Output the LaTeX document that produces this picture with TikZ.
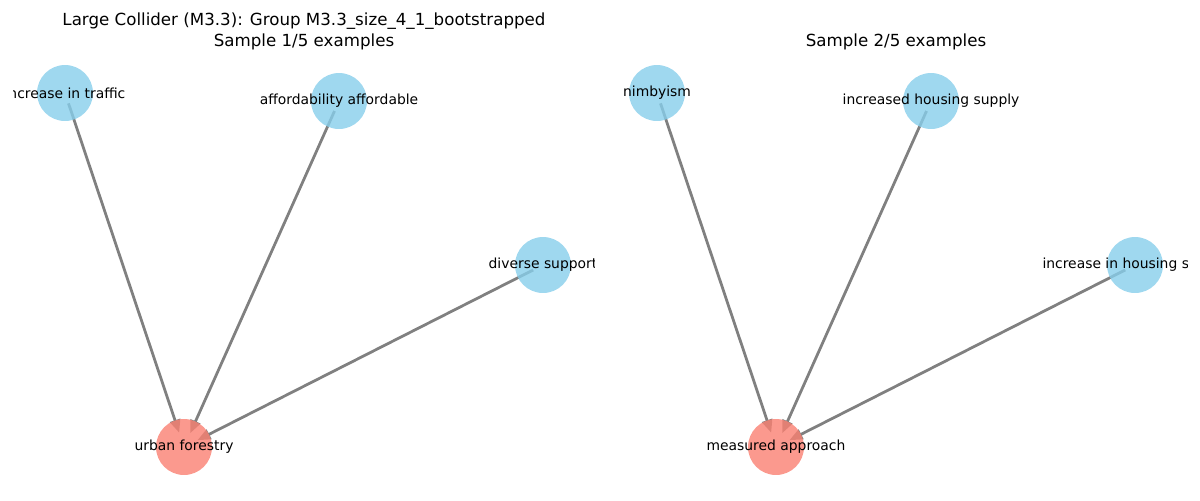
\documentclass[tikz,border=0pt]{standalone}
\usepackage{fontspec}
\setmainfont{DejaVu Sans}
\usetikzlibrary{arrows.meta,backgrounds}
\definecolor{skyblue}{HTML}{87CEEB}
\definecolor{salmon}{HTML}{FA8072}
\definecolor{edgegray}{HTML}{808080}
\tikzset{
  cause/.style={circle,fill=skyblue,fill opacity=0.8,draw=none,inner sep=0pt,minimum size=40.3pt},
  effect/.style={cause,fill=salmon},
  lbl/.style={inner sep=0pt,font=\fontsize{10}{12}\selectfont},
  ttl/.style={inner sep=0pt,font=\fontsize{12}{14}\selectfont},
  edge/.style={edgegray,line width=2pt,-{Triangle[length=9.5pt,width=7.5pt]},shorten <=7.9pt,shorten >=10.8pt}
}
\begin{document}
\begin{tikzpicture}[x=0.72pt,y=-0.72pt]
\useasboundingbox (0,0) rectangle (1200,500);
\node[ttl] (tla) at (304,21) {Large Collider (M3.3): Group M3.3\_size\_4\_1\_bootstrapped};
\node[ttl] (tlb) at (304,42) {Sample 1/5 examples};
\node[ttl] (tlc) at (896,42) {Sample 2/5 examples};
% sample 1
\begin{scope}
\clip (13,0) rectangle (594,500);
\node[effect] (uf) at (184,447) {};
\foreach \nm/\kx/\ky in {it/65/93,aa/339/101,ds/543/265}{\node[cause] (\nm) at (\kx,\ky) {};}
\foreach \nm/\lb in {uf/{urban forestry},it/{increase in traffic},aa/{affordability affordable},ds/{diverse support}}{\node[lbl] (\nm-t) at (\nm) {\lb};}
\begin{scope}[on background layer]
\foreach \nm in {it,aa,ds}{\draw[edge] (\nm.center) -- (uf.center);}
\end{scope}
\end{scope}
% sample 2
\begin{scope}
\clip (605,0) rectangle (1187,500);
\node[effect] (ma) at (776,447) {};
\foreach \nm/\kx/\ky in {nb/657/93,hs/931/101,ih/1135/265}{\node[cause] (\nm) at (\kx,\ky) {};}
\foreach \nm/\lb in {ma/{measured approach},nb/{nimbyism},hs/{increased housing supply},ih/{increase in housing supply}}{\node[lbl] (\nm-t) at (\nm) {\lb};}
\begin{scope}[on background layer]
\foreach \nm in {nb,hs,ih}{\draw[edge] (\nm.center) -- (ma.center);}
\end{scope}
\end{scope}
\end{tikzpicture}
\end{document}
